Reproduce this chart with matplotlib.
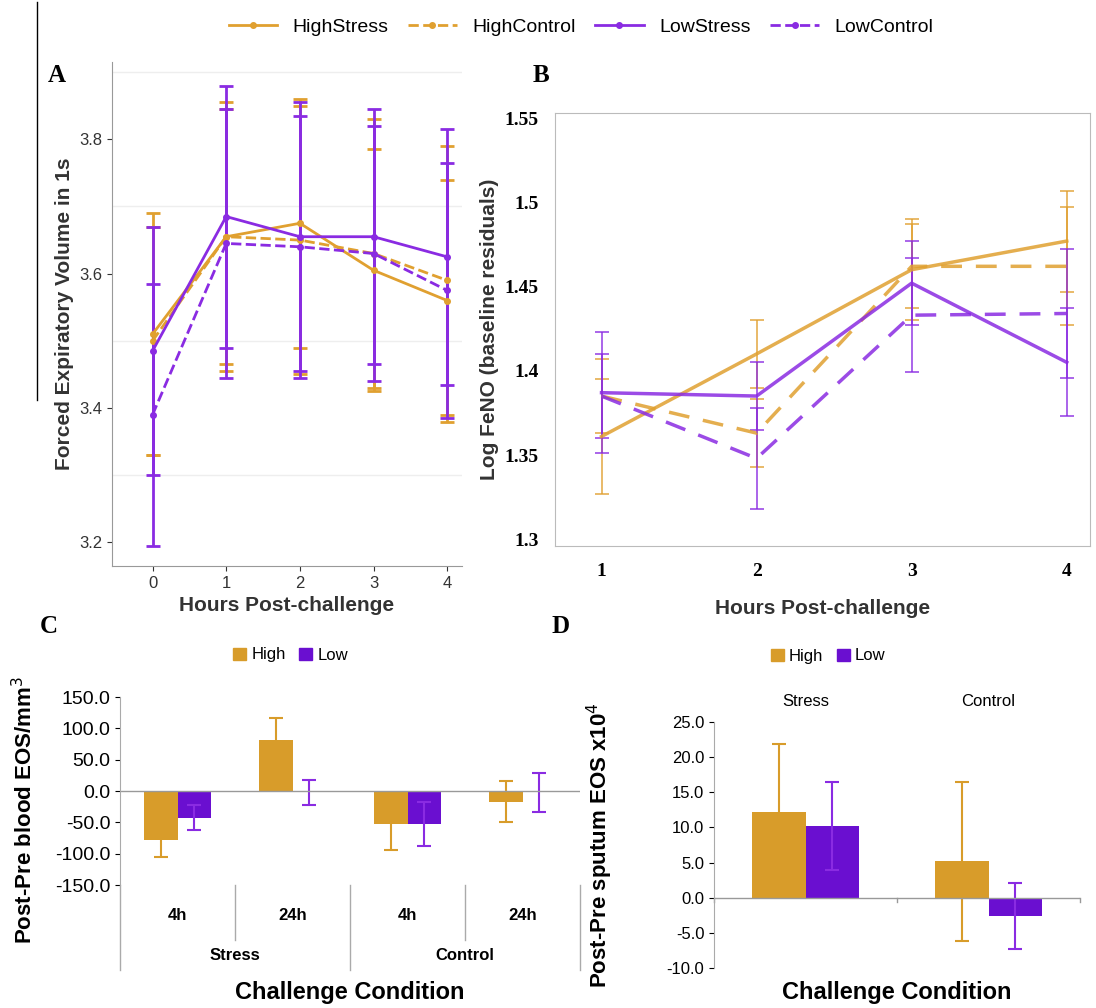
import numpy as np
import matplotlib.pyplot as plt
from matplotlib.lines import Line2D
from matplotlib.patches import Patch
import matplotlib.transforms as mtransforms

ORANGE = '#E0A030'
PURPLE = '#8A2BE2'
BAR_OR = '#D89C2A'
BAR_PU = '#6A0FD0'

# Panel A: FEV1
hours_a = [0, 1, 2, 3, 4]
a_high_stress = [3.51, 3.655, 3.675, 3.605, 3.56]
a_high_stress_err = [0.18, 0.19, 0.185, 0.18, 0.18]
a_high_control = [3.50, 3.655, 3.65, 3.63, 3.59]
a_high_control_err = [0.17, 0.20, 0.20, 0.20, 0.20]
a_low_stress = [3.485, 3.685, 3.655, 3.655, 3.625]
a_low_stress_err = [0.185, 0.195, 0.20, 0.19, 0.19]
a_low_control = [3.39, 3.645, 3.64, 3.63, 3.575]
a_low_control_err = [0.195, 0.20, 0.195, 0.19, 0.19]

# Panel B: FeNO
hours_b = [1, 2, 3, 4]
b_high_stress = [1.361, 1.410, 1.460, 1.477]
b_high_stress_err = [0.034, 0.020, 0.030, 0.030]
b_high_control = [1.385, 1.363, 1.462, 1.462]
b_high_control_err = [0.022, 0.020, 0.025, 0.035]
b_low_stress = [1.387, 1.385, 1.452, 1.405]
b_low_stress_err = [0.036, 0.020, 0.025, 0.032]
b_low_control = [1.385, 1.348, 1.433, 1.434]
b_low_control_err = [0.025, 0.030, 0.034, 0.038]

# Panel C: blood EOS
c_groups = ['4h', '24h', '4h', '24h']
c_conditions = ['Stress', 'Control']
c_high = [-78, 82, -52, -17]
c_high_err = [28, 35, 42, 33]
c_low = [-43, -2, -52, -2]
c_low_err = [20, 20, 35, 31]

# Panel D: sputum EOS
d_conditions = ['Stress', 'Control']
d_high = [12.2, 5.2]
d_high_err = [9.7, 11.3]
d_low = [10.2, -2.6]
d_low_err = [6.2, 4.7]

W, H = 1096, 1008
fig = plt.figure(figsize=(W / 100, H / 100), dpi=100)
plt.rcParams['font.family'] = ['Liberation Sans', 'DejaVu Sans']


def px(l, t, r, b):
    return [l / W, 1 - b / H, (r - l) / W, (b - t) / H]


# ---- A ----
ax = fig.add_axes(px(112, 62, 462, 566))
kw = dict(capsize=5, capthick=2, elinewidth=2, lw=2, marker='o', ms=4)
ax.errorbar(hours_a, a_high_stress, yerr=a_high_stress_err, color=ORANGE, **kw)
ax.errorbar(hours_a, a_high_control, yerr=a_high_control_err, color=ORANGE, ls='--', **kw)
ax.errorbar(hours_a, a_low_stress, yerr=a_low_stress_err, color=PURPLE, **kw)
ax.errorbar(hours_a, a_low_control, yerr=a_low_control_err, color=PURPLE, ls='--', **kw)
ax.set_xlim(-0.55, 4.2)
ax.set_ylim(3.165, 3.915)
ax.set_yticks([3.2, 3.4, 3.6, 3.8])
ax.set_xticks(hours_a)
for y in [3.3, 3.5, 3.7, 3.9]:
    ax.axhline(y, color='#eeeeee', lw=1, zorder=0)
for s in ['top', 'right']:
    ax.spines[s].set_visible(False)
ax.spines['left'].set_color('#999999')
ax.spines['bottom'].set_color('#999999')
ax.tick_params(labelsize=12, colors='#333333')
ax.set_xlabel('Hours Post-challenge', fontsize=15, fontweight='bold', color='#333333')
ax.set_ylabel('Forced Expiratory Volume in 1s', fontsize=15, fontweight='bold', color='#333333')
fig.text(48 / W, 1 - 82 / H, 'A', fontsize=18, fontweight='bold', family='Liberation Serif')
fig.add_artist(Line2D([37 / W, 37 / W], [1 - 2 / H, 1 - 400 / H], color='black', lw=1))

# ---- B ----
ax = fig.add_axes(px(555, 113, 1090, 546))
kwb = dict(capsize=5, capthick=1.2, elinewidth=1.2, lw=2.5, alpha=0.85)
ax.errorbar(hours_b, b_high_stress, yerr=b_high_stress_err, color=ORANGE, **kwb)
ax.errorbar(hours_b, b_high_control, yerr=b_high_control_err, color=ORANGE, ls=(0, (6, 4)), **kwb)
ax.errorbar(hours_b, b_low_stress, yerr=b_low_stress_err, color=PURPLE, **kwb)
ax.errorbar(hours_b, b_low_control, yerr=b_low_control_err, color=PURPLE, ls=(0, (6, 4)), **kwb)
ax.set_xlim(0.7, 4.15)
ax.set_ylim(1.296, 1.553)
ax.set_yticks([1.3, 1.35, 1.4, 1.45, 1.5, 1.55])
ax.set_yticklabels(['1.3', '1.35', '1.4', '1.45', '1.5', '1.55'])
ax.set_xticks(hours_b)
for s in ax.spines.values():
    s.set_color('#bbbbbb')
ax.tick_params(length=0, labelsize=14, pad=12)
for t in ax.get_xticklabels() + ax.get_yticklabels():
    t.set_fontweight('bold')
    t.set_family('Liberation Serif')
ax.set_xlabel('Hours Post-challenge', fontsize=15, fontweight='bold', color='#333333', labelpad=14)
ax.set_ylabel('Log FeNO (baseline residuals)', fontsize=15, fontweight='bold', color='#333333')
fig.text(533 / W, 1 - 82 / H, 'B', fontsize=18, fontweight='bold', family='Liberation Serif')

# legend
handles = [
    Line2D([], [], color=ORANGE, lw=2, marker='o', ms=4),
    Line2D([], [], color=ORANGE, lw=2, ls='--', marker='o', ms=4),
    Line2D([], [], color=PURPLE, lw=2, marker='o', ms=4),
    Line2D([], [], color=PURPLE, lw=2, ls='--', marker='o', ms=4),
]
fig.legend(handles, ['HighStress', 'HighControl', 'LowStress', 'LowControl'], loc='center',
           bbox_to_anchor=(0.53, 1 - 27 / H), ncol=4, frameon=False, fontsize=14,
           handlelength=2.5, columnspacing=1.0)

# ---- C ----
ax = fig.add_axes(px(120, 697, 580, 885))
x = np.arange(len(c_groups))
bw = 0.29
ebk = dict(lw=1.5, capsize=5, capthick=1.5)
ax.bar(x - bw / 2, c_high, bw, color=BAR_OR)
ax.bar(x + bw / 2, c_low, bw, color=BAR_PU)
ax.errorbar(x - bw / 2, c_high, yerr=c_high_err, fmt='none', ecolor=BAR_OR, **ebk)
ax.errorbar(x + bw / 2, c_low, yerr=c_low_err, fmt='none', ecolor=PURPLE, **ebk)
ax.set_xlim(-0.5, 3.5)
ax.set_ylim(-150, 150)
ax.set_yticks(np.arange(-150, 151, 50))
ax.set_yticklabels([f'{v:.1f}' for v in np.arange(-150, 151, 50)])
ax.axhline(0, color='#999999', lw=1)
for s in ['top', 'right', 'bottom']:
    ax.spines[s].set_visible(False)
ax.spines['left'].set_color('#aaaaaa')
ax.set_xticks([])
ax.tick_params(labelsize=14)
tr = mtransforms.blended_transform_factory(ax.transData, fig.transFigure)
for i, g in enumerate(c_groups):
    ax.text(i, 1 - 915 / H, g, transform=tr, ha='center', va='center', fontsize=12, fontweight='bold')
for xb in [0.5, 2.5]:
    ax.add_artist(Line2D([xb, xb], [1 - 885 / H, 1 - 940 / H], transform=tr, color='#aaaaaa', lw=1, clip_on=False))
for xb in [-0.5, 1.5, 3.5]:
    ax.add_artist(Line2D([xb, xb], [1 - 885 / H, 1 - 970 / H], transform=tr, color='#aaaaaa', lw=1, clip_on=False))
for i, c in enumerate(c_conditions):
    ax.text(0.5 + 2 * i, 1 - 956 / H, c, transform=tr, ha='center', va='center', fontsize=12, fontweight='bold')
ax.text(1.5, 1 - 993 / H, 'Challenge Condition', transform=tr, ha='center', va='center', fontsize=17, fontweight='bold')
ax.set_ylabel('Post-Pre blood EOS/mm$^3$', fontsize=16, fontweight='bold')
ax.yaxis.set_label_coords(-0.18, 0.4)
ax.legend([Patch(color=BAR_OR), Patch(color=BAR_PU)], ['High', 'Low'], loc='center', ncol=2,
          bbox_to_anchor=(0.265, 1 - 655 / H), bbox_transform=fig.transFigure, frameon=False,
          fontsize=12, handlelength=0.8, handletextpad=0.3, columnspacing=0.8)
fig.text(40 / W, 1 - 633 / H, 'C', fontsize=18, fontweight='bold', family='Liberation Serif')

# ---- D ----
ax = fig.add_axes(px(714, 722, 1080, 968))
x = np.arange(len(d_conditions))
bw = 0.29
ax.bar(x - bw / 2, d_high, bw, color=BAR_OR)
ax.bar(x + bw / 2, d_low, bw, color=BAR_PU)
ax.errorbar(x - bw / 2, d_high, yerr=d_high_err, fmt='none', ecolor=BAR_OR, **ebk)
ax.errorbar(x + bw / 2, d_low, yerr=d_low_err, fmt='none', ecolor=PURPLE, **ebk)
ax.set_xlim(-0.5, 1.5)
ax.set_ylim(-10, 25)
ax.set_yticks(np.arange(-10, 26, 5))
ax.set_yticklabels([f'{v:.1f}' for v in np.arange(-10, 26, 5)])
ax.axhline(0, color='#999999', lw=1)
for xb in [-0.5, 0.5, 1.5]:
    ax.plot([xb, xb], [0, -0.6], color='#999999', lw=1, clip_on=False)
for s in ['top', 'right', 'bottom']:
    ax.spines[s].set_visible(False)
ax.spines['left'].set_color('#aaaaaa')
ax.set_xticks([])
ax.tick_params(labelsize=12)
trd = mtransforms.blended_transform_factory(ax.transData, fig.transFigure)
for i, c in enumerate(d_conditions):
    ax.text(i, 1 - 702 / H, c, transform=trd, ha='center', va='center', fontsize=12)
ax.text(0.5, 1 - 993 / H, 'Challenge Condition', transform=trd, ha='center', va='center', fontsize=17, fontweight='bold')
ax.set_ylabel('Post-Pre sputum EOS x10$^4$', fontsize=16, fontweight='bold')
ax.yaxis.set_label_coords(-0.27, 0.5)
ax.legend([Patch(color=BAR_OR), Patch(color=BAR_PU)], ['High', 'Low'], loc='center', ncol=2,
          bbox_to_anchor=(828 / W, 1 - 656 / H), bbox_transform=fig.transFigure, frameon=False,
          fontsize=12, handlelength=0.8, handletextpad=0.3, columnspacing=0.8)
fig.text(551 / W, 1 - 633 / H, 'D', fontsize=18, fontweight='bold', family='Liberation Serif')

fig.savefig('out.png', dpi=100)
